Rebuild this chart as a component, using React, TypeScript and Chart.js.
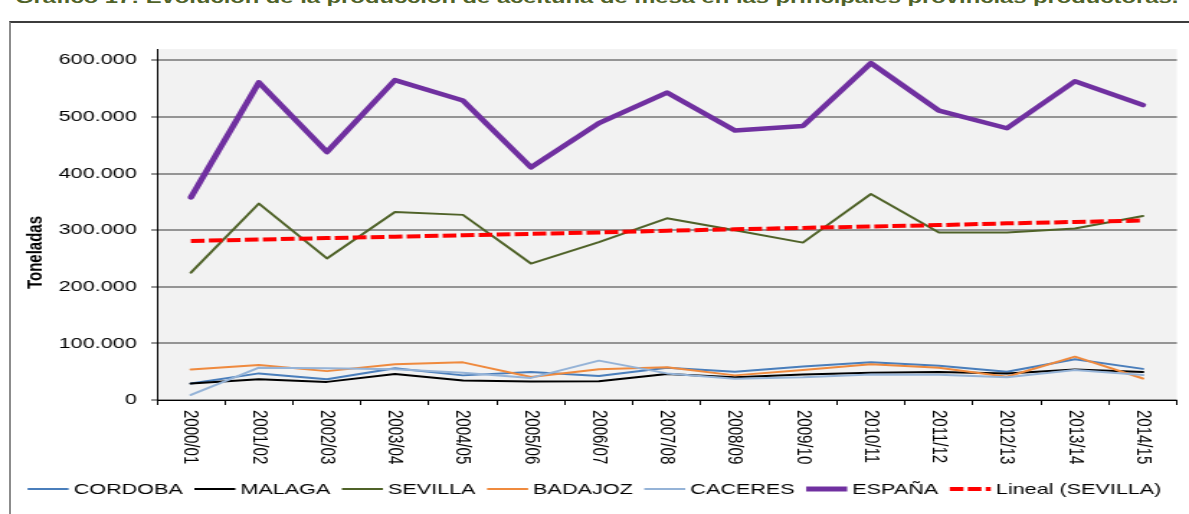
import React, { useEffect, useRef } from 'react';
import { Chart, registerables } from 'chart.js';

Chart.register(...registerables);

const TITLE = 'Gráfico 17: Evolución de la producción de aceituna de mesa en las principales provincias productoras.';
const Y_TITLE = 'Toneladas';

const CATEGORIES = [
  '2000/01', '2001/02', '2002/03', '2003/04', '2004/05', '2005/06', '2006/07', '2007/08',
  '2008/09', '2009/10', '2010/11', '2011/12', '2012/13', '2013/14', '2014/15',
];

const CORDOBA = [29000, 47000, 36500, 56000, 43500, 49500, 42500, 57000, 50000, 59000, 66500, 60500, 50000, 72000, 55000];
const MALAGA = [29000, 36500, 32000, 46000, 34500, 32500, 33000, 46000, 40000, 45000, 48000, 49500, 47000, 54000, 49500];
const SEVILLA = [225000, 347000, 250000, 332000, 327000, 241000, 279000, 321000, 300000, 278000, 364000, 296000, 296000, 303000, 325000];
const BADAJOZ = [54000, 62000, 51000, 63000, 66500, 40500, 54500, 58000, 43500, 53000, 63000, 57000, 41000, 76500, 38000];
const CACERES = [9000, 57000, 56000, 54500, 48000, 39000, 69500, 47000, 37500, 40000, 45000, 44500, 40000, 53000, 44000];
const ESPANA = [358000, 561000, 438000, 565000, 529000, 411000, 489000, 543000, 476000, 484000, 595000, 511000, 480000, 563000, 521000];
const LINEAL_SEVILLA = [281000, 283500, 286000, 288500, 291000, 293500, 296000, 299000, 301500, 304000, 306500, 309000, 312000, 314500, 317000];

const Y_TICKS = [0, 100000, 200000, 300000, 400000, 500000, 600000];
const Y_MAX = 620000;

const SERIES_NAMES = ['CORDOBA', 'MALAGA', 'SEVILLA', 'BADAJOZ', 'CACERES', 'ESPAÑA', 'Lineal (SEVILLA)'];

const FONT = '"Liberation Sans", Arial, Helvetica, sans-serif';
const CW = 826; // internal canvas width (stretched horizontally on screen)
const CH = 514;

const fmt = (v: number) => String(Math.round(v)).replace(/\B(?=(\d{3})+(?!\d))/g, '.');

const decor = {
  id: 'decor',
  beforeDraw(chart: any) {
    const { ctx, chartArea: a } = chart;
    ctx.save();
    ctx.fillStyle = '#f2f2f2';
    ctx.fillRect(a.left, a.top, a.right - a.left, a.bottom - a.top);
    ctx.restore();
  },
  afterDraw(chart: any) {
    const { ctx, chartArea: a, scales } = chart;
    const xs = scales.x;
    ctx.save();
    // x labels, rotated reading top-to-bottom
    ctx.fillStyle = '#000';
    ctx.font = `15px ${FONT}`;
    ctx.textAlign = 'left';
    ctx.textBaseline = 'middle';
    CATEGORIES.forEach((lab, i) => {
      const x = xs.getPixelForValue(i);
      ctx.save();
      ctx.translate(x, a.bottom + 10);
      ctx.rotate(Math.PI / 2);
      ctx.fillText(lab, 0, 0);
      ctx.restore();
    });
    // y title
    ctx.font = `bold 15px ${FONT}`;
    ctx.save();
    ctx.translate(25, (a.top + a.bottom) / 2 + 28);
    ctx.rotate(-Math.PI / 2);
    ctx.textAlign = 'center';
    ctx.fillText(Y_TITLE, 0, 0);
    ctx.restore();
    // legend
    ctx.font = `15px ${FONT}`;
    const sample = 28.5;
    const gapA = 3.5;
    const gapB = 8;
    const items = chart.data.datasets.map((d: any) => ({ d, w: ctx.measureText(d.label).width }));
    const total = items.reduce((s: number, it: any) => s + sample + gapA + it.w, 0) + gapB * (items.length - 1);
    let x = (CW - total) / 2;
    const ly = 489;
    items.forEach((it: any) => {
      ctx.save();
      ctx.strokeStyle = it.d.borderColor;
      ctx.lineWidth = it.d.legendWidth;
      ctx.setLineDash(it.d.borderDash || []);
      ctx.lineCap = 'butt';
      ctx.beginPath();
      ctx.moveTo(x, ly);
      ctx.lineTo(x + sample, ly);
      ctx.stroke();
      ctx.restore();
      x += sample + gapA;
      ctx.fillStyle = '#000';
      ctx.textAlign = 'left';
      ctx.textBaseline = 'middle';
      ctx.fillText(it.d.label, x, ly + 1);
      x += it.w + gapB;
    });
    ctx.restore();
  },
};

export default function App() {
  const ref = useRef<HTMLCanvasElement>(null);

  useEffect(() => {
    const canvas = ref.current;
    if (!canvas) return;
    Chart.defaults.font.family = FONT;
    const values = [CORDOBA, MALAGA, SEVILLA, BADAJOZ, CACERES, ESPANA, LINEAL_SEVILLA];
    const colors = ['#4a7ebb', '#000000', '#4f6228', '#ef8a3e', '#95b3d7', '#7030a0', '#ff0000'];
    const widths = [2, 2, 2, 2, 2, 4.5, 4];
    const legendWidths = [2, 2, 2, 2, 2, 5, 4];
    const datasets = values.map((data, i) => ({
      label: SERIES_NAMES[i],
      data,
      borderColor: colors[i],
      backgroundColor: colors[i],
      borderWidth: widths[i],
      legendWidth: legendWidths[i],
      borderDash: i === 6 ? [9.5, 3] : undefined,
      borderJoinStyle: 'round',
      borderCapStyle: i === 6 ? 'butt' : 'round',
      pointRadius: 0,
      pointHoverRadius: 0,
      tension: 0,
      fill: false,
      order: 10 - i,
    }));

    const chart = new Chart(canvas, {
      type: 'line',
      data: { labels: CATEGORIES, datasets: datasets as any },
      options: {
        responsive: false,
        devicePixelRatio: 1,
        animation: false,
        events: [],
        layout: { padding: { top: 49, left: 0, right: 8.4, bottom: 0 } },
        plugins: {
          legend: { display: false },
          title: { display: false },
          tooltip: { enabled: false },
        },
        scales: {
          x: {
            type: 'category',
            offset: true,
            afterFit: (s: any) => { s.height = 114; },
            ticks: { display: false },
            grid: {
              offset: true,
              drawOnChartArea: false,
              drawTicks: true,
              tickLength: 5,
              color: '#000',
              lineWidth: 1,
            },
            border: { display: true, color: '#000', width: 1 },
          },
          y: {
            min: 0,
            max: Y_MAX,
            afterBuildTicks: (s: any) => { s.ticks = Y_TICKS.map((v) => ({ value: v })); },
            afterFit: (s: any) => { s.width = 109; },
            ticks: {
              padding: 10,
              color: '#000',
              font: { size: 15, family: FONT },
              callback: (v: any) => fmt(Number(v)),
            },
            grid: { color: '#959595', lineWidth: 2, tickLength: 4, drawTicks: true },
            border: { display: true, color: '#000', width: 1 },
          },
        },
      },
      plugins: [decor],
    } as any);
    return () => chart.destroy();
  }, []);

  return (
    <div style={{ position: 'absolute', left: 0, top: 0, width: 1189, height: 514, overflow: 'hidden', background: '#fff' }}>
      <div
        style={{
          position: 'absolute', left: 9, top: 21, width: 1300, height: 600,
          borderLeft: '2px solid #8c8c8c', borderTop: '2px solid #3c3c3c',
        }}
      />
      <div
        style={{
          position: 'absolute', left: 15, top: -11, whiteSpace: 'nowrap',
          font: `bold 16.5px ${FONT}`, lineHeight: '16px', color: '#4f6228',
          transform: 'scaleX(1.44)', transformOrigin: 'left top',
        }}
      >
        {TITLE}
      </div>
      <canvas
        ref={ref}
        width={CW}
        height={CH}
        style={{ position: 'absolute', left: 0, top: 0, width: '1189px', height: '514px' }}
      />
    </div>
  );
}
